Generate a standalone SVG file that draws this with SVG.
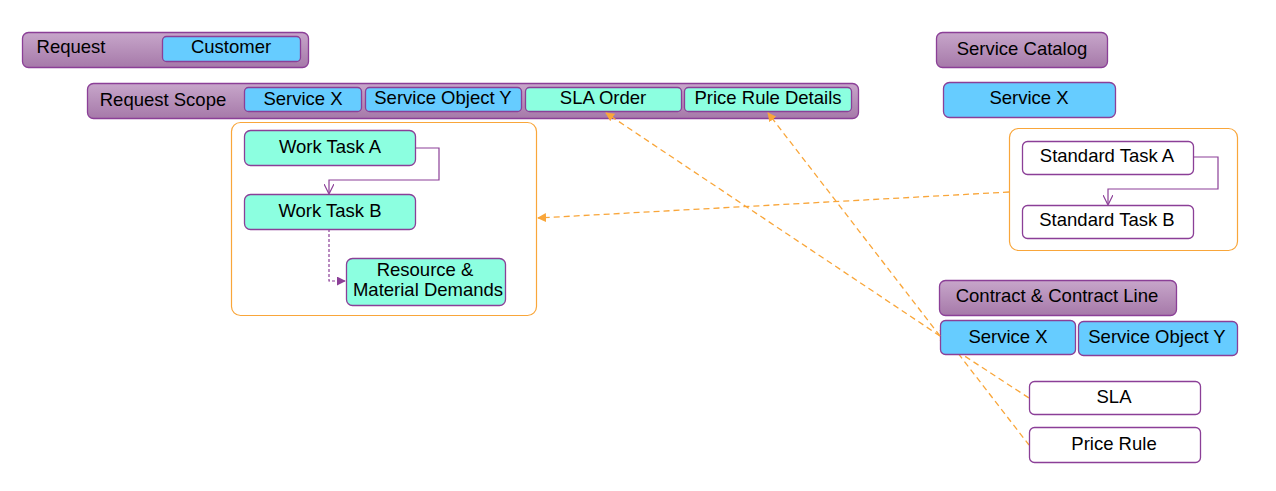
<svg xmlns="http://www.w3.org/2000/svg" width="1276" height="491" viewBox="0 0 1276 491">
<defs>
<linearGradient id="pg" x1="0" y1="0" x2="0" y2="1">
<stop offset="0" stop-color="#c7a6ca"/>
<stop offset="1" stop-color="#a679a9"/>
</linearGradient>
<marker id="oa" viewBox="0 0 10 10" refX="9" refY="5" markerWidth="9" markerHeight="9" orient="auto" markerUnits="userSpaceOnUse">
<path d="M0,0 L10,5 L0,10 z" fill="#f9a63a"/>
</marker>
<marker id="open" viewBox="0 0 10 10" refX="9" refY="5" markerWidth="10" markerHeight="10" orient="auto" markerUnits="userSpaceOnUse">
<path d="M0,0 L10,5 L0,10" fill="none" stroke="#8b3f97" stroke-width="1.2"/>
</marker>
<marker id="fa" viewBox="0 0 10 10" refX="9" refY="5" markerWidth="9" markerHeight="9" orient="auto" markerUnits="userSpaceOnUse">
<path d="M0,0 L10,5 L0,10 z" fill="#8b3f97"/>
</marker>
</defs>
<style>
text{font-family:"Liberation Sans",Arial,sans-serif;font-size:18.5px;fill:#000;text-anchor:middle}
.bar{fill:url(#pg);stroke:#8b3f97;stroke-width:1.3}
.blue{fill:#66ccff;stroke:#8b3f97;stroke-width:1.3}
.aqua{fill:#8cffe0;stroke:#8b3f97;stroke-width:1.3}
.white{fill:#fff;stroke:#8b3f97;stroke-width:1.3}
.cont{fill:#fff;stroke:#f9a63a;stroke-width:1.2}
.dash{fill:none;stroke:#f9a63a;stroke-width:1.3;stroke-dasharray:6,4}
.flow{fill:none;stroke:#8b3f97;stroke-width:1.2}
</style>
<rect width="1276" height="491" fill="#fff"/>

<g id="connectors-back">
<path class="dash" d="M940,340 L1029,398"/>
<path class="dash" d="M940,330 L1029,445"/>
</g>

<g id="request">
<rect class="bar" x="22.5" y="32.5" width="286" height="35" rx="6"/>
<text x="71" y="53">Request</text>
</g>
<g id="customer">
<rect class="blue" x="162.5" y="36.5" width="138" height="25" rx="4"/>
<text x="231" y="53">Customer</text>
</g>

<g id="request-scope">
<rect class="bar" x="87.5" y="83.5" width="771" height="35" rx="6"/>
<text x="163" y="106">Request Scope</text>
</g>
<g id="rs-service-x">
<rect class="blue" x="244.5" y="87.5" width="117" height="24" rx="4"/>
<text x="303" y="105">Service X</text>
</g>
<g id="rs-service-object-y">
<rect class="blue" x="365.5" y="87.5" width="156" height="24" rx="4"/>
<text x="443" y="104">Service Object Y</text>
</g>
<g id="sla-order">
<rect class="aqua" x="525.5" y="87.5" width="156" height="24" rx="4"/>
<text x="603" y="104">SLA Order</text>
</g>
<g id="price-rule-details">
<rect class="aqua" x="684.5" y="87.5" width="167" height="24" rx="4"/>
<text x="768" y="104">Price Rule Details</text>
</g>

<g id="work-container">
<rect class="cont" x="231.5" y="122.5" width="305" height="193" rx="9"/>
</g>
<g id="work-task-a">
<rect class="aqua" x="244.5" y="130.5" width="171" height="35" rx="6"/>
<text x="330" y="153">Work Task A</text>
</g>
<g id="work-task-b">
<rect class="aqua" x="244.5" y="194.5" width="171" height="35" rx="6"/>
<text x="330" y="217">Work  Task B</text>
</g>
<g id="resource-demands">
<rect class="aqua" x="346.5" y="258.5" width="159" height="47" rx="6"/>
<text x="425" y="276">Resource &amp;</text>
<text x="428" y="296">Material Demands</text>
</g>

<g id="service-catalog">
<rect class="bar" x="936.5" y="32.5" width="171" height="35" rx="6"/>
<text x="1022" y="55">Service Catalog</text>
</g>
<g id="sc-service-x">
<rect class="blue" x="943.5" y="82.5" width="172" height="35" rx="6"/>
<text x="1029" y="104">Service X</text>
</g>
<g id="std-container">
<rect class="cont" x="1009.5" y="128.5" width="228" height="122" rx="9"/>
</g>
<g id="standard-task-a">
<rect class="white" x="1022.5" y="141.5" width="171" height="33" rx="5"/>
<text x="1107" y="162">Standard Task A</text>
</g>
<g id="standard-task-b">
<rect class="white" x="1022.5" y="205.5" width="171" height="33" rx="5"/>
<text x="1107" y="226">Standard Task B</text>
</g>

<g id="contract">
<rect class="bar" x="939.5" y="280.5" width="237" height="35" rx="6"/>
<text x="1057" y="302">Contract &amp; Contract Line</text>
</g>
<g id="ct-service-x">
<rect class="blue" x="940.5" y="320.5" width="135" height="34" rx="5"/>
<text x="1008" y="343">Service X</text>
</g>
<g id="ct-service-object-y">
<rect class="blue" x="1078.5" y="321.5" width="159" height="34" rx="5"/>
<text x="1157" y="343">Service Object Y</text>
</g>
<g id="sla">
<rect class="white" x="1029.5" y="381.5" width="171" height="33" rx="5"/>
<text x="1114" y="403">SLA</text>
</g>
<g id="price-rule">
<rect class="white" x="1029.5" y="427.5" width="171" height="35" rx="5"/>
<text x="1114" y="450">Price Rule</text>
</g>

<g id="connectors">
<path class="flow" d="M415,148 H439 V180 H329 V193" marker-end="url(#open)"/>
<path class="flow" d="M329,229 V281 H345" stroke-dasharray="3,2" marker-end="url(#fa)"/>
<path class="flow" d="M1193,157 H1218 V189 H1108 V204" marker-end="url(#open)"/>
<path class="dash" d="M1009,192 L538,218" marker-end="url(#oa)"/>
<path class="dash" d="M940,336 L606,113" marker-end="url(#oa)"/>
<path class="dash" d="M940,336 L768,113" marker-end="url(#oa)"/>
</g>
</svg>
